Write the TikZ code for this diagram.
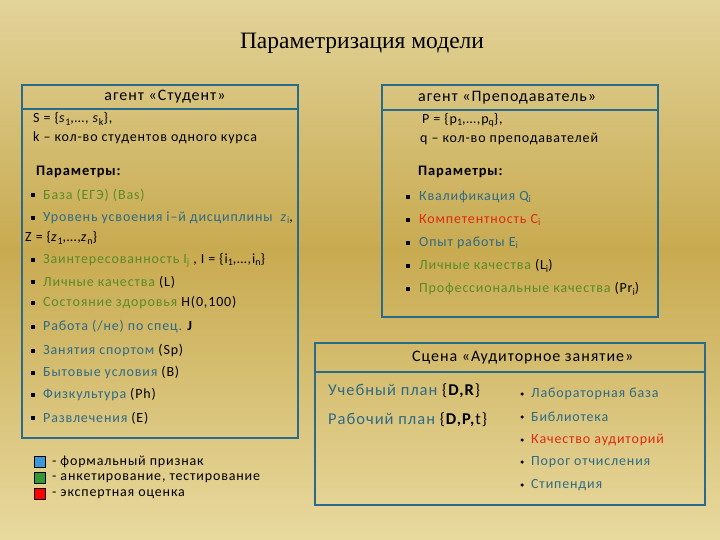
\documentclass[tikz,border=0pt]{standalone}
\usepackage{fontspec}
\setmainfont{Carlito}[LetterSpace=6]
\newfontfamily\titlefont{Liberation Serif}
\definecolor{bord}{HTML}{2A6A8A}
\definecolor{tblue}{HTML}{2E6A86}
\definecolor{tgreen}{HTML}{5A8A2A}
\definecolor{tred}{HTML}{E02A10}
\definecolor{bgA}{HTML}{E8D99E}
\definecolor{bgB}{HTML}{C8AA50}
\definecolor{bgC}{HTML}{E2D399}
\newcommand{\sbs}[1]{\raisebox{-0.35ex}{\fontsize{10}{11}\selectfont #1}}
\begin{document}
\begin{tikzpicture}[x=1pt,y=-1pt,
  box/.style={draw=bord,line width=2pt},
  txt/.style={anchor=west,inner sep=0pt,font=\fontsize{14}{15}\selectfont},
  hdr/.style={inner sep=0pt,font=\fontsize{16}{17}\selectfont},
  bul/.style={fill=black,minimum size=4.5pt,inner sep=0pt},
  dot/.style={circle,fill=black,minimum size=3.5pt,inner sep=0pt}]
\useasboundingbox (0,0) rectangle (720,540);
\shade[top color=bgC,bottom color=bgB] (0,0) rectangle (720,250);
\shade[top color=bgB,bottom color=bgA] (0,249.5) rectangle (720,540);
\node[font=\titlefont\fontsize{23.5}{25}\selectfont] (title) at (362,43) {Параметризация модели};
% Student
\draw[box] (22,85) rectangle (298,109);
\draw[box] (22,109) rectangle (298,438);
\node[hdr] (sh) at (165,97) {агент «Студент»};
\node[txt] (s1) at (33,119) {S = \{\textit{s}\sbs{1},…, \textit{s}\sbs{k}\},};
\node[txt] (s2) at (33,138) {k – кол-во студентов одного курса};
\node[txt,font=\bfseries\fontsize{14.5}{16}\selectfont] (sp) at (36,172) {Параметры:};
\foreach \y/\c/\t/\e [count=\i] in {
 195/tgreen/{База (ЕГЭ) (Bas)}/{},
 218/tblue/{Уровень усвоения i–й дисциплины\ \ \textit{z}\sbs{i}}/{,},
 260/tgreen/{Заинтересованность I\sbs{j}}/{ , I = \{i\sbs{1},…,i\sbs{n}\}},
 282/tgreen/{Личные качества}/{ (L)},
 303/tgreen/{Состояние здоровья}/{ H(0,100)},
 327/tblue/{Работа (/не) по спец.}/{ \textbf{J}},
 351/tblue/{Занятия спортом}/{ (Sp)},
 373/tblue/{Бытовые условия}/{ (B)},
 395/tblue/{Физкультура}/{ (Ph)},
 418/tblue/{Развлечения}/{ (E)}}{
 \node[bul] (sb\i) at (33,\y) {};
 \node[txt] (st\i) at (43,\y) {\textcolor{\c}{\t}\e};
}
\node[txt] (sz) at (25,238) {Z = \{\textit{z}\sbs{1},…,\textit{z}\sbs{n}\}};
% Teacher
\draw[box] (382,85) rectangle (658,110);
\draw[box] (382,110) rectangle (658,317);
\node[hdr,anchor=west] (th) at (418,98) {агент «Преподаватель»};
\node[txt] (t1) at (422,120) {P = \{p\sbs{1},…,p\sbs{q}\},};
\node[txt] (t2) at (420,139) {q – кол-во преподавателей};
\node[txt,font=\bfseries\fontsize{14.5}{16}\selectfont] (tp) at (418,172) {Параметры:};
\foreach \y/\c/\t/\e [count=\i] in {
 197/tblue/{Квалификация Q\sbs{i}}/{},
 220/tred/{Компетентность C\sbs{i}}/{},
 243/tblue/{Опыт работы E\sbs{i}}/{},
 266/tgreen/{Личные качества}/{ (L\sbs{i})},
 289/tgreen/{Профессиональные качества}/{ (Pr\sbs{i})}}{
 \node[bul] (tb\i) at (408,\y) {};
 \node[txt] (tt\i) at (419,\y) {\textcolor{\c}{\t}\e};
}
% Scene
\draw[box] (315,343) rectangle (705,372);
\draw[box] (315,372) rectangle (705,505);
\node[hdr,anchor=west] (ch) at (412,358) {Сцена «Аудиторное занятие»};
\node[txt,font=\fontsize{16.5}{18}\selectfont] (c1) at (328,391) {\textcolor{tblue}{Учебный план} \{\textbf{D,R}\}};
\node[txt,font=\fontsize{16.5}{18}\selectfont] (c2) at (328,420) {\textcolor{tblue}{Рабочий план} \{\textbf{D,P,}t\}};
\foreach \y/\c/\t [count=\i] in {
 394/tblue/{Лабораторная база},
 417/tblue/{Библиотека},
 440/tred/{Качество аудиторий},
 462/tblue/{Порог отчисления},
 485/tblue/{Стипендия}}{
 \node[dot] (cb\i) at (522,\y) {};
 \node[txt] (ct\i) at (531,\y) {\textcolor{\c}{\t}};
}
% Legend
\node[draw=black,fill=cyan!70!blue!80,minimum size=11pt,inner sep=0pt] (l1) at (40,462) {};
\node[draw=black,fill=green!50!black!80,minimum size=11pt,inner sep=0pt] (l2) at (40,478) {};
\node[draw=black,fill=red,minimum size=11pt,inner sep=0pt] (l3) at (40,494) {};
\node[txt] (lt1) at (52,462) {- формальный признак};
\node[txt] (lt2) at (52,478) {- анкетирование, тестирование};
\node[txt] (lt3) at (52,494) {- экспертная оценка};
\end{tikzpicture}
\end{document}
